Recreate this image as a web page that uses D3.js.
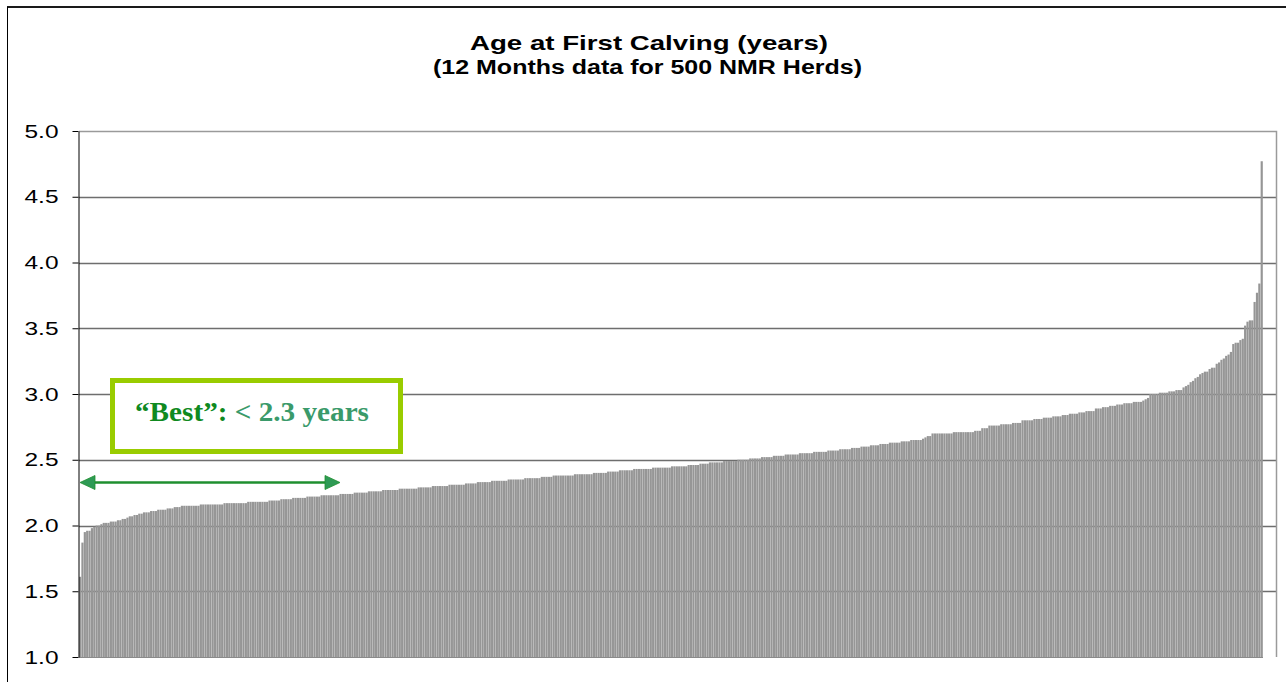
<!DOCTYPE html>
<html><head><meta charset="utf-8">
<script src="https://cdn.jsdelivr.net/npm/d3@7"></script>
<style>html,body{margin:0;padding:0;background:#fff;}svg{display:block;}</style>
</head><body>
<svg id="c" width="1286" height="682"></svg>
<script>
const titleLines = ["Age at First Calving (years)", "(12 Months data for 500 NMR Herds)"];
const yTicks = [1.0, 1.5, 2.0, 2.5, 3.0, 3.5, 4.0, 4.5, 5.0];
const bestLabelA = "\u201CBest\u201D:";
const bestLabelB = " < 2.3 years";
const bestThreshold = 2.3;
// Age at first calving (years) per herd, sorted ascending (500 herds)
const ages = [
1.61,1.87,1.95,1.96,1.96,1.98,1.99,2.00,2.00,2.01,2.02,2.02,2.02,2.03,2.03,2.03,2.04,2.04,2.05,2.05,
2.06,2.07,2.07,2.08,2.08,2.09,2.09,2.10,2.10,2.10,2.11,2.11,2.11,2.12,2.12,2.12,2.12,2.13,2.13,2.13,
2.14,2.14,2.14,2.15,2.15,2.15,2.15,2.15,2.15,2.15,2.15,2.16,2.16,2.16,2.16,2.16,2.16,2.16,2.16,2.16,
2.16,2.17,2.17,2.17,2.17,2.17,2.17,2.17,2.17,2.17,2.17,2.18,2.18,2.18,2.18,2.18,2.18,2.18,2.18,2.18,
2.19,2.19,2.19,2.19,2.19,2.20,2.20,2.20,2.20,2.20,2.21,2.21,2.21,2.21,2.21,2.21,2.22,2.22,2.22,2.22,
2.22,2.22,2.23,2.23,2.23,2.23,2.23,2.23,2.23,2.23,2.24,2.24,2.24,2.24,2.24,2.24,2.25,2.25,2.25,2.25,
2.25,2.25,2.26,2.26,2.26,2.26,2.26,2.26,2.27,2.27,2.27,2.27,2.27,2.27,2.27,2.28,2.28,2.28,2.28,2.28,
2.28,2.28,2.28,2.29,2.29,2.29,2.29,2.29,2.29,2.30,2.30,2.30,2.30,2.30,2.30,2.30,2.31,2.31,2.31,2.31,
2.31,2.31,2.31,2.32,2.32,2.32,2.32,2.32,2.33,2.33,2.33,2.33,2.33,2.33,2.34,2.34,2.34,2.34,2.34,2.34,
2.34,2.35,2.35,2.35,2.35,2.35,2.35,2.35,2.36,2.36,2.36,2.36,2.36,2.36,2.36,2.37,2.37,2.37,2.37,2.37,
2.38,2.38,2.38,2.38,2.38,2.38,2.38,2.38,2.38,2.39,2.39,2.39,2.39,2.39,2.39,2.39,2.39,2.40,2.40,2.40,
2.40,2.40,2.40,2.41,2.41,2.41,2.41,2.41,2.42,2.42,2.42,2.42,2.42,2.42,2.43,2.43,2.43,2.43,2.43,2.43,
2.43,2.43,2.44,2.44,2.44,2.44,2.44,2.44,2.44,2.44,2.45,2.45,2.45,2.45,2.45,2.45,2.45,2.46,2.46,2.46,
2.46,2.46,2.47,2.47,2.47,2.47,2.48,2.48,2.48,2.48,2.48,2.48,2.49,2.49,2.49,2.49,2.49,2.49,2.50,2.50,
2.50,2.50,2.50,2.51,2.51,2.51,2.51,2.51,2.52,2.52,2.52,2.52,2.52,2.53,2.53,2.53,2.53,2.53,2.54,2.54,
2.54,2.54,2.54,2.54,2.55,2.55,2.55,2.55,2.55,2.55,2.56,2.56,2.56,2.56,2.56,2.56,2.57,2.57,2.57,2.57,
2.57,2.58,2.58,2.58,2.58,2.58,2.59,2.59,2.59,2.59,2.60,2.60,2.60,2.60,2.61,2.61,2.61,2.61,2.62,2.62,
2.62,2.62,2.63,2.63,2.63,2.63,2.63,2.64,2.64,2.64,2.64,2.65,2.65,2.65,2.65,2.65,2.66,2.67,2.68,2.68,
2.70,2.70,2.70,2.70,2.70,2.70,2.70,2.70,2.70,2.71,2.71,2.71,2.71,2.71,2.71,2.71,2.71,2.71,2.72,2.72,
2.72,2.74,2.74,2.74,2.76,2.76,2.76,2.76,2.76,2.77,2.77,2.77,2.77,2.77,2.78,2.78,2.78,2.78,2.80,2.80,
2.80,2.80,2.80,2.81,2.81,2.81,2.81,2.82,2.82,2.82,2.82,2.83,2.83,2.83,2.83,2.84,2.84,2.84,2.85,2.85,
2.85,2.85,2.86,2.86,2.86,2.87,2.87,2.87,2.87,2.89,2.89,2.89,2.90,2.90,2.90,2.91,2.91,2.91,2.92,2.92,
2.92,2.93,2.93,2.93,2.93,2.94,2.94,2.94,2.94,2.95,2.96,2.97,3.00,3.00,3.00,3.00,3.01,3.01,3.01,3.01,
3.02,3.02,3.02,3.03,3.03,3.03,3.05,3.06,3.07,3.09,3.10,3.12,3.13,3.15,3.16,3.17,3.17,3.19,3.20,3.20,
3.23,3.24,3.26,3.27,3.29,3.30,3.32,3.38,3.39,3.39,3.41,3.42,3.52,3.55,3.56,3.56,3.70,3.77,3.84,4.77
];
const herds = d3.range(1, ages.length + 1);

const svg = d3.select("#c");
const plot = {left: 79, right: 1277, top: 131, bottom: 657, barsRight: 1263};

const y = d3.scaleLinear().domain([1, 5]).range([plot.bottom, plot.top]);
const x = d3.scaleBand().domain(herds).range([plot.left, plot.barsRight]).padding(0);

// outer frame
svg.append("line").attr("x1", 7).attr("x2", 1286).attr("y1", 7).attr("y2", 7)
  .attr("stroke", "#1a1a1a").attr("stroke-width", 2);
svg.append("line").attr("x1", 7.5).attr("x2", 7.5).attr("y1", 7).attr("y2", 682)
  .attr("stroke", "#000").attr("stroke-width", 1);

// titles (reference text is horizontally widened)
svg.append("text").attr("x", 470).attr("y", 50)
  .attr("textLength", 358).attr("lengthAdjust", "spacingAndGlyphs")
  .attr("font-family", "Liberation Sans, Arial, sans-serif").attr("font-weight", "bold")
  .attr("font-size", 21).attr("fill", "#000").text(titleLines[0]);
svg.append("text").attr("x", 433).attr("y", 74)
  .attr("textLength", 429).attr("lengthAdjust", "spacingAndGlyphs")
  .attr("font-family", "Liberation Sans, Arial, sans-serif").attr("font-weight", "bold")
  .attr("font-size", 19.5).attr("fill", "#000").text(titleLines[1]);

// gridlines
svg.append("g").selectAll("line").data(yTicks.filter(t => t > 1 && t < 5)).join("line")
  .attr("x1", plot.left).attr("x2", plot.right)
  .attr("y1", d => Math.round(y(d)) + 0.5).attr("y2", d => Math.round(y(d)) + 0.5)
  .attr("stroke", "#6e6e6e").attr("stroke-width", 1.5);

// plot border top & right
svg.append("path")
  .attr("d", `M${plot.left},${plot.top + 0.5}H${plot.right - 0.5}V${plot.bottom}`)
  .attr("fill", "none").attr("stroke", "#9a9a9a").attr("stroke-width", 1.5);

// bars
svg.append("g").selectAll("rect").data(ages).join("rect")
  .attr("x", (d, i) => x(herds[i]))
  .attr("width", x.bandwidth() * 0.92)
  .attr("y", d => y(d))
  .attr("height", d => y(1) - y(d))
  .attr("fill", "#969696");

// bottom axis line
svg.append("line").attr("x1", plot.left).attr("x2", plot.barsRight)
  .attr("y1", plot.bottom + 0.5).attr("y2", plot.bottom + 0.5)
  .attr("stroke", "#8a8a8a").attr("stroke-width", 1);

// y axis
const yAxis = d3.axisLeft(y).tickValues(yTicks).tickFormat(d3.format(".1f"))
  .tickSizeInner(6).tickSizeOuter(0).tickPadding(14);
const gY = svg.append("g").attr("transform", `translate(${plot.left - 0.5},0)`).call(yAxis);
gY.select(".domain").attr("stroke", "#000");
gY.selectAll(".tick line").attr("stroke", "#000");
gY.selectAll(".tick text").attr("font-family", "Liberation Sans, Arial, sans-serif")
  .attr("font-size", 19).attr("fill", "#000")
  .attr("text-anchor", "start").attr("x", -54)
  .attr("textLength", 34).attr("lengthAdjust", "spacingAndGlyphs");

// annotation box
svg.append("rect").attr("x", 112.5).attr("y", 380.5).attr("width", 288).attr("height", 71)
  .attr("fill", "#fff").attr("stroke", "#99cc00").attr("stroke-width", 5);
const t = svg.append("text").attr("x", 135).attr("y", 421)
  .attr("textLength", 234).attr("lengthAdjust", "spacingAndGlyphs")
  .attr("font-family", "Liberation Serif, Times New Roman, serif").attr("font-weight", "bold")
  .attr("font-size", 27);
t.append("tspan").attr("fill", "#0f8a1f").text(bestLabelA);
t.append("tspan").attr("fill", "#3a9a6a").text(bestLabelB);

// arrow spanning "best" herds (< 2.3 years)
const ax1 = plot.left + 1, ax2 = 340, ay = 482.5;
svg.append("line").attr("x1", ax1 + 12).attr("x2", ax2 - 12).attr("y1", ay).attr("y2", ay)
  .attr("stroke", "#1f8f2f").attr("stroke-width", 2.5);
svg.append("path").attr("d", `M${ax1},${ay}L${ax1 + 15},${ay - 7}L${ax1 + 15},${ay + 7}Z`)
  .attr("fill", "#2e9a55").attr("stroke", "#1f8f2f").attr("stroke-width", 0.8);
svg.append("path").attr("d", `M${ax2},${ay}L${ax2 - 15},${ay - 7}L${ax2 - 15},${ay + 7}Z`)
  .attr("fill", "#2e9a55").attr("stroke", "#1f8f2f").attr("stroke-width", 0.8);
</script>
</body></html>
